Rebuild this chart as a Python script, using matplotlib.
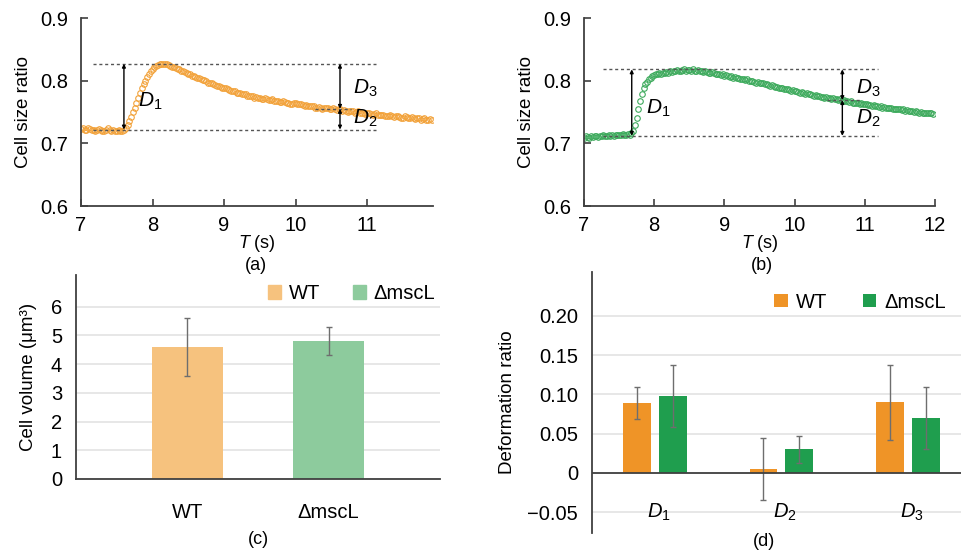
import numpy as np
import matplotlib
matplotlib.use("Agg")
import matplotlib.pyplot as plt
from matplotlib.patches import Patch

plt.rcParams['font.family'] = ['Liberation Sans', 'DejaVu Sans']
plt.rcParams['mathtext.fontset'] = 'custom'
plt.rcParams['mathtext.rm'] = 'Liberation Sans'
plt.rcParams['mathtext.it'] = 'Liberation Sans:italic'

# --------------------------
# Data
# --------------------------

dt = 0.025  # sampling interval (s), both traces start at 7.0 s

# (a) WT cell size ratio, one row per 0.5 s
ratio_wt = [
    0.723, 0.724, 0.722, 0.721, 0.724, 0.723, 0.721, 0.722, 0.720, 0.722, 0.723, 0.721, 0.719, 0.720, 0.722, 0.724, 0.722, 0.720, 0.721, 0.719,
    0.720, 0.721, 0.719, 0.720, 0.721, 0.724, 0.729, 0.735, 0.742, 0.750, 0.757, 0.765, 0.773, 0.781, 0.788, 0.794, 0.800, 0.806, 0.811, 0.815,
    0.819, 0.822, 0.824, 0.825, 0.826, 0.827, 0.827, 0.826, 0.826, 0.825, 0.824, 0.822, 0.822, 0.820, 0.819, 0.818, 0.816, 0.816, 0.814, 0.812,
    0.811, 0.810, 0.808, 0.808, 0.806, 0.805, 0.804, 0.802, 0.801, 0.801, 0.799, 0.797, 0.796, 0.796, 0.795, 0.793, 0.792, 0.792, 0.790, 0.789,
    0.788, 0.789, 0.787, 0.785, 0.784, 0.784, 0.783, 0.781, 0.781, 0.780, 0.779, 0.779, 0.778, 0.776, 0.776, 0.776, 0.775, 0.773, 0.774, 0.772,
    0.773, 0.771, 0.771, 0.772, 0.771, 0.769, 0.769, 0.770, 0.768, 0.767, 0.768, 0.766, 0.766, 0.767, 0.766, 0.764, 0.765, 0.763, 0.763, 0.764,
    0.764, 0.762, 0.762, 0.763, 0.761, 0.760, 0.761, 0.760, 0.759, 0.760, 0.759, 0.757, 0.757, 0.758, 0.757, 0.755, 0.756, 0.757, 0.756, 0.754,
    0.754, 0.756, 0.755, 0.753, 0.754, 0.755, 0.752, 0.753, 0.752, 0.750, 0.752, 0.751, 0.751, 0.749, 0.750, 0.751, 0.749, 0.748, 0.749, 0.747,
    0.748, 0.749, 0.747, 0.746, 0.747, 0.748, 0.746, 0.745, 0.745, 0.746, 0.744, 0.743, 0.744, 0.745, 0.743, 0.742, 0.743, 0.744, 0.742, 0.741,
    0.741, 0.743, 0.742, 0.740, 0.741, 0.742, 0.740, 0.739, 0.741, 0.740, 0.738, 0.739, 0.740, 0.738, 0.737, 0.739, 0.738,
]
t_wt = 7.0 + dt * np.arange(len(ratio_wt))
# levels / positions of the D markers in (a)
lv_wt = {'base': 0.722, 'peak': 0.827, 'mid': 0.755}
t_d1_wt, t_d23_wt = 7.60, 10.62

# (b) ΔmscL cell size ratio, one row per 0.5 s
ratio_ms = [
    0.709, 0.711, 0.710, 0.709, 0.711, 0.710, 0.712, 0.711, 0.710, 0.712, 0.711, 0.713, 0.712, 0.711, 0.713, 0.712, 0.714, 0.712, 0.713, 0.714,
    0.713, 0.714, 0.715, 0.713, 0.714, 0.715, 0.714, 0.716, 0.720, 0.729, 0.740, 0.754, 0.768, 0.779, 0.788, 0.794, 0.798, 0.802, 0.805, 0.807,
    0.809, 0.810, 0.810, 0.812, 0.811, 0.813, 0.812, 0.814, 0.813, 0.815, 0.814, 0.816, 0.815, 0.817, 0.816, 0.815, 0.817, 0.818, 0.816, 0.817,
    0.817, 0.816, 0.818, 0.816, 0.815, 0.817, 0.816, 0.815, 0.814, 0.816, 0.814, 0.813, 0.812, 0.814, 0.812, 0.811, 0.810, 0.811, 0.809, 0.810,
    0.808, 0.809, 0.807, 0.806, 0.807, 0.805, 0.806, 0.804, 0.805, 0.803, 0.803, 0.802, 0.801, 0.802, 0.800, 0.799, 0.800, 0.798, 0.797, 0.798,
    0.797, 0.796, 0.796, 0.794, 0.795, 0.793, 0.792, 0.793, 0.791, 0.790, 0.790, 0.789, 0.788, 0.789, 0.787, 0.786, 0.786, 0.785, 0.784, 0.785,
    0.783, 0.784, 0.782, 0.781, 0.782, 0.780, 0.779, 0.780, 0.778, 0.779, 0.777, 0.776, 0.777, 0.775, 0.776, 0.774, 0.774, 0.773, 0.774, 0.772,
    0.772, 0.771, 0.772, 0.770, 0.771, 0.769, 0.770, 0.768, 0.769, 0.767, 0.767, 0.766, 0.767, 0.765, 0.765, 0.764, 0.765, 0.763, 0.764, 0.762,
    0.762, 0.763, 0.761, 0.761, 0.760, 0.761, 0.759, 0.760, 0.758, 0.759, 0.757, 0.758, 0.757, 0.756, 0.756, 0.757, 0.755, 0.755, 0.754, 0.755,
    0.754, 0.753, 0.754, 0.752, 0.753, 0.752, 0.751, 0.752, 0.750, 0.751, 0.750, 0.749, 0.750, 0.749, 0.748, 0.749, 0.748, 0.749, 0.748, 0.747,
]
t_ms = 7.0 + dt * np.arange(len(ratio_ms))
lv_ms = {'base': 0.712, 'peak': 0.818, 'mid': 0.769}
t_d1_ms, t_d23_ms = 7.68, 10.68

# (c) cell volume
strains = ['WT', 'ΔmscL']
volume = [4.6, 4.8]
volume_err = [1.0, 0.5]

# (d) deformation ratio
d_labels = ['$D_{\\mathrm{1}}$', '$D_{\\mathrm{2}}$', '$D_{\\mathrm{3}}$']
deform_wt = [0.089, 0.005, 0.090]
deform_wt_err = [0.020, 0.040, 0.048]
deform_ms = [0.098, 0.030, 0.070]
deform_ms_err = [0.040, 0.017, 0.040]

# --------------------------
# Styling
# --------------------------
orange = '#EF9427'
green = '#1F9E4E'
orange_pt = '#F2A23A'
green_pt = '#3DAA5C'
orange_lt = '#F6C27E'
green_lt = '#8DCB9D'
axis_col = '#404040'
grid_col = '#E3E3E3'
TICK = 14.5
LAB = 13.5
W, H = 962, 551


def px_axes(fig, l, t, r, b):
    return fig.add_axes([l / W, 1 - b / H, (r - l) / W, (b - t) / H])


fig = plt.figure(figsize=(W / 100, H / 100), dpi=100)


def time_panel(ax, t, y, col, lv, t_d1, t_d23, xlim, xticks, dash_x, mid_x, lbl_pos, tag, tag_x):
    ax.plot(t, y, linestyle='none', marker='o', ms=4.0, mfc='none', mec=col, mew=0.8)
    dash = dict(color='#555555', lw=1.0, linestyle=(0, (2.2, 2.0)))
    ax.plot(dash_x, [lv['peak']] * 2, **dash)
    ax.plot(dash_x, [lv['base']] * 2, **dash)
    ax.plot(mid_x, [lv['mid']] * 2, **dash)
    arr = dict(arrowstyle='<|-|>', color='black', lw=1.0, mutation_scale=5, shrinkA=0, shrinkB=0)
    ax.annotate('', xy=(t_d1, lv['peak']), xytext=(t_d1, lv['base']), arrowprops=arr)
    ax.annotate('', xy=(t_d23, lv['peak']), xytext=(t_d23, lv['mid']), arrowprops=arr)
    ax.annotate('', xy=(t_d23, lv['mid']), xytext=(t_d23, lv['base']), arrowprops=arr)
    for (x, yy), s in zip(lbl_pos, ['$D_{\\mathrm{1}}$', '$D_{\\mathrm{3}}$', '$D_{\\mathrm{2}}$']):
        ax.text(x, yy, s, fontsize=15, ha='left', va='center')
    ax.set_xlim(*xlim)
    ax.set_ylim(0.6, 0.9)
    ax.set_xticks(xticks)
    ax.set_yticks([0.6, 0.7, 0.8, 0.9])
    ax.set_yticklabels(['0.6', '0.7', '0.8', '0.9'])
    for s in ['top', 'right']:
        ax.spines[s].set_visible(False)
    for s in ['left', 'bottom']:
        ax.spines[s].set_color(axis_col)
        ax.spines[s].set_linewidth(1.3)
    ax.tick_params(direction='in', length=5, width=1.2, color=axis_col, labelsize=TICK)
    ax.tick_params(axis='y', pad=9)
    ax.tick_params(axis='x', pad=7)
    ax.set_ylabel('Cell size ratio', fontsize=LAB, labelpad=6)
    ax.set_xlabel('$T$ (s)', fontsize=13, labelpad=-1)
    fig.text(tag_x / W, 1 - 265 / H, tag, fontsize=13, ha='center', va='center')


ax_a = px_axes(fig, 81, 18, 433, 206)
time_panel(ax_a, t_wt, ratio_wt, orange_pt, lv_wt, t_d1_wt, t_d23_wt,
           (7, 11.92), [7, 8, 9, 10, 11], [7.17, 11.13], [10.27, 10.78],
           [(7.8, 0.767), (10.8, 0.788), (10.8, 0.740)], '(a)', 256)

ax_b = px_axes(fig, 584, 18, 935, 206)
time_panel(ax_b, t_ms, ratio_ms, green_pt, lv_ms, t_d1_ms, t_d23_ms,
           (7, 12), [7, 8, 9, 10, 11, 12], [7.27, 11.19], [10.46, 10.93],
           [(7.88, 0.756), (10.87, 0.788), (10.87, 0.740)], '(b)', 762)

# (c) cell volume bars
ax_c = px_axes(fig, 76, 275, 440, 479)
xc = np.arange(len(strains))
ax_c.bar(xc, volume, width=0.5, color=[orange_lt, green_lt], zorder=2)
ax_c.errorbar(xc, volume, yerr=volume_err, fmt='none', ecolor='#6E6E6E', elinewidth=1.0,
              capsize=2, capthick=1.0, zorder=3)
ax_c.set_xlim(-0.79, 1.79)
ax_c.set_ylim(0, 7.1)
ax_c.set_yticks(range(0, 7))
ax_c.yaxis.grid(True, color=grid_col, lw=1.2, zorder=0)
ax_c.set_axisbelow(True)
ax_c.set_xticks(xc)
ax_c.set_xticklabels(strains)
for s in ['top', 'right']:
    ax_c.spines[s].set_visible(False)
for s in ['left', 'bottom']:
    ax_c.spines[s].set_color(axis_col)
    ax_c.spines[s].set_linewidth(1.3)
ax_c.tick_params(axis='y', length=0, labelsize=TICK, pad=10)
ax_c.tick_params(axis='x', length=0, labelsize=TICK, pad=17)
ax_c.set_ylabel('Cell volume (μm³)', fontsize=LAB, labelpad=10)
ax_c.legend(handles=[Patch(color=orange_lt, label='WT'), Patch(color=green_lt, label='ΔmscL')],
            loc='center', bbox_to_anchor=(0.757, 0.91), ncol=2, frameon=False, fontsize=TICK,
            handlelength=0.65, handleheight=0.65, handletextpad=0.4, columnspacing=1.6)
fig.text(258 / W, 1 - 539 / H, '(c)', fontsize=13, ha='center', va='center')

# (d) deformation ratio bars
ax_d = px_axes(fig, 592, 272, 962, 533)
xd = np.arange(len(d_labels))
bw = 0.22
ax_d.bar(xd - 0.142, deform_wt, width=bw, color=orange, label='WT', zorder=2)
ax_d.bar(xd + 0.142, deform_ms, width=bw, color=green, label='ΔmscL', zorder=2)
ax_d.errorbar(xd - 0.142, deform_wt, yerr=deform_wt_err, fmt='none', ecolor='#6E6E6E',
              elinewidth=1.0, capsize=2, capthick=1.0, zorder=3)
ax_d.errorbar(xd + 0.142, deform_ms, yerr=deform_ms_err, fmt='none', ecolor='#6E6E6E',
              elinewidth=1.0, capsize=2, capthick=1.0, zorder=3)
ax_d.axhline(0, color=axis_col, lw=1.3, zorder=4)
ax_d.set_xlim(-0.5, 2.43)
ax_d.set_ylim(-0.0765, 0.256)
ax_d.set_yticks([-0.05, 0, 0.05, 0.10, 0.15, 0.20])
ax_d.set_yticklabels(['\u22120.05', '0', '0.05', '0.10', '0.15', '0.20'])
ax_d.yaxis.grid(True, color=grid_col, lw=1.2, zorder=0)
ax_d.set_axisbelow(True)
ax_d.set_xticks([])
for s in ['top', 'right', 'bottom']:
    ax_d.spines[s].set_visible(False)
ax_d.spines['left'].set_color(axis_col)
ax_d.spines['left'].set_linewidth(1.3)
ax_d.tick_params(axis='y', length=0, labelsize=TICK, pad=10)
for x, s in zip(xd, d_labels):
    ax_d.text(x + 0.03, -0.05, s, fontsize=TICK, ha='center', va='center')
ax_d.set_ylabel('Deformation ratio', fontsize=LAB, labelpad=8)
ax_d.legend(loc='center', bbox_to_anchor=(0.725, 0.885), ncol=2, frameon=False, fontsize=TICK,
            handlelength=0.65, handleheight=0.65, handletextpad=0.4, columnspacing=1.8)
fig.text(764 / W, 1 - 541 / H, '(d)', fontsize=13, ha='center', va='center')

fig.savefig('out.png', dpi=100)
